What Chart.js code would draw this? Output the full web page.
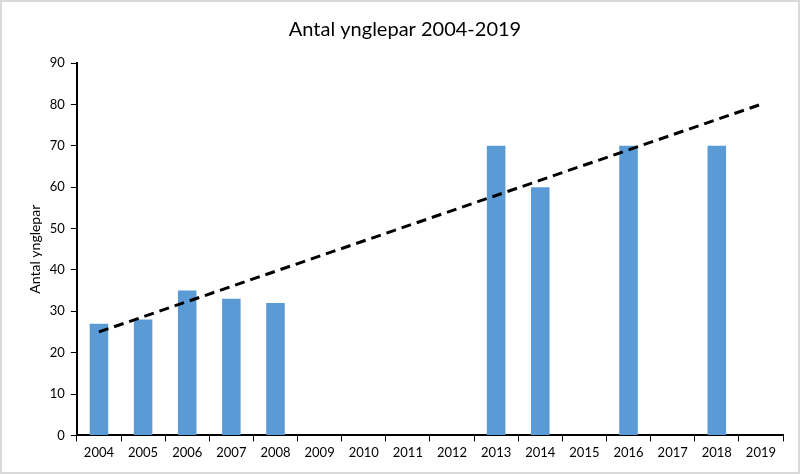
<!DOCTYPE html>
<html>
<head>
<meta charset="utf-8">
<script src="https://cdn.jsdelivr.net/npm/chart.js@4"></script>
<style>
  html, body { margin: 0; padding: 0; background: #fff; }
  .wrap { width: 800px; height: 474px; box-sizing: border-box; border: 2px solid #d9d9d9; }
</style>
</head>
<body>
<div class="wrap"><canvas id="chart"></canvas></div>
<script>
const years = ["2004", "2005", "2006", "2007", "2008", "2009", "2010", "2011",
  "2012", "2013", "2014", "2015", "2016", "2017", "2018", "2019"];
const pairs = [27, 28, 35, 33, 32, null, null, null, null, 70, 60, null, 70, null, 70, null];
// trend line: only the two ends, gaps spanned
const trend = [25, null, null, null, null, null, null, null, null, null, null, null, null, null, null, 80];
const yTicks = { min: 0, max: 90, step: 10 };

const ctx = document.getElementById("chart");
new Chart(ctx, {
  data: {
    labels: years,
    datasets: [
      {
        type: "line",
        data: trend,
        borderColor: "#000",
        borderWidth: 3,
        borderDash: [10, 6],
        pointRadius: 0,
        spanGaps: true,
        order: 0,
      },
      {
        type: "bar",
        data: pairs,
        backgroundColor: "#5b9bd5",
        barPercentage: 0.42,
        categoryPercentage: 1,
        order: 1,
      },
    ],
  },
  options: {
    responsive: true,
    maintainAspectRatio: false,
    animation: false,
    layout: { padding: { left: 25, right: 15, top: 8, bottom: 7 } },
    plugins: {
      legend: { display: false },
      tooltip: { enabled: false },
      title: {
        display: true,
        text: "Antal ynglepar 2004-2019",
        color: "#000",
        font: { family: "Lato, 'Open Sans', sans-serif", size: 20, weight: "normal" },
        padding: { top: 8, bottom: 21 },
      },
    },
    scales: {
      x: {
        offset: true,
        grid: { offset: true, drawOnChartArea: false, color: "#000", tickLength: 6 },
        border: { color: "#000", width: 2 },
        ticks: { color: "#000", font: { family: "Lato, 'Open Sans', sans-serif", size: 13 }, padding: 4, maxRotation: 0 },
      },
      y: {
        min: yTicks.min,
        max: yTicks.max,
        grid: { drawOnChartArea: false, color: "#000", tickLength: 6 },
        border: { color: "#000", width: 2 },
        ticks: { stepSize: yTicks.step, color: "#000", font: { family: "Lato, 'Open Sans', sans-serif", size: 13 }, padding: 6 },
        title: {
          display: true,
          text: "Antal ynglepar",
          color: "#000",
          font: { family: "Lato, 'Open Sans', sans-serif", size: 14 },
          padding: 0,
        },
      },
    },
  },
});
</script>
</body>
</html>
